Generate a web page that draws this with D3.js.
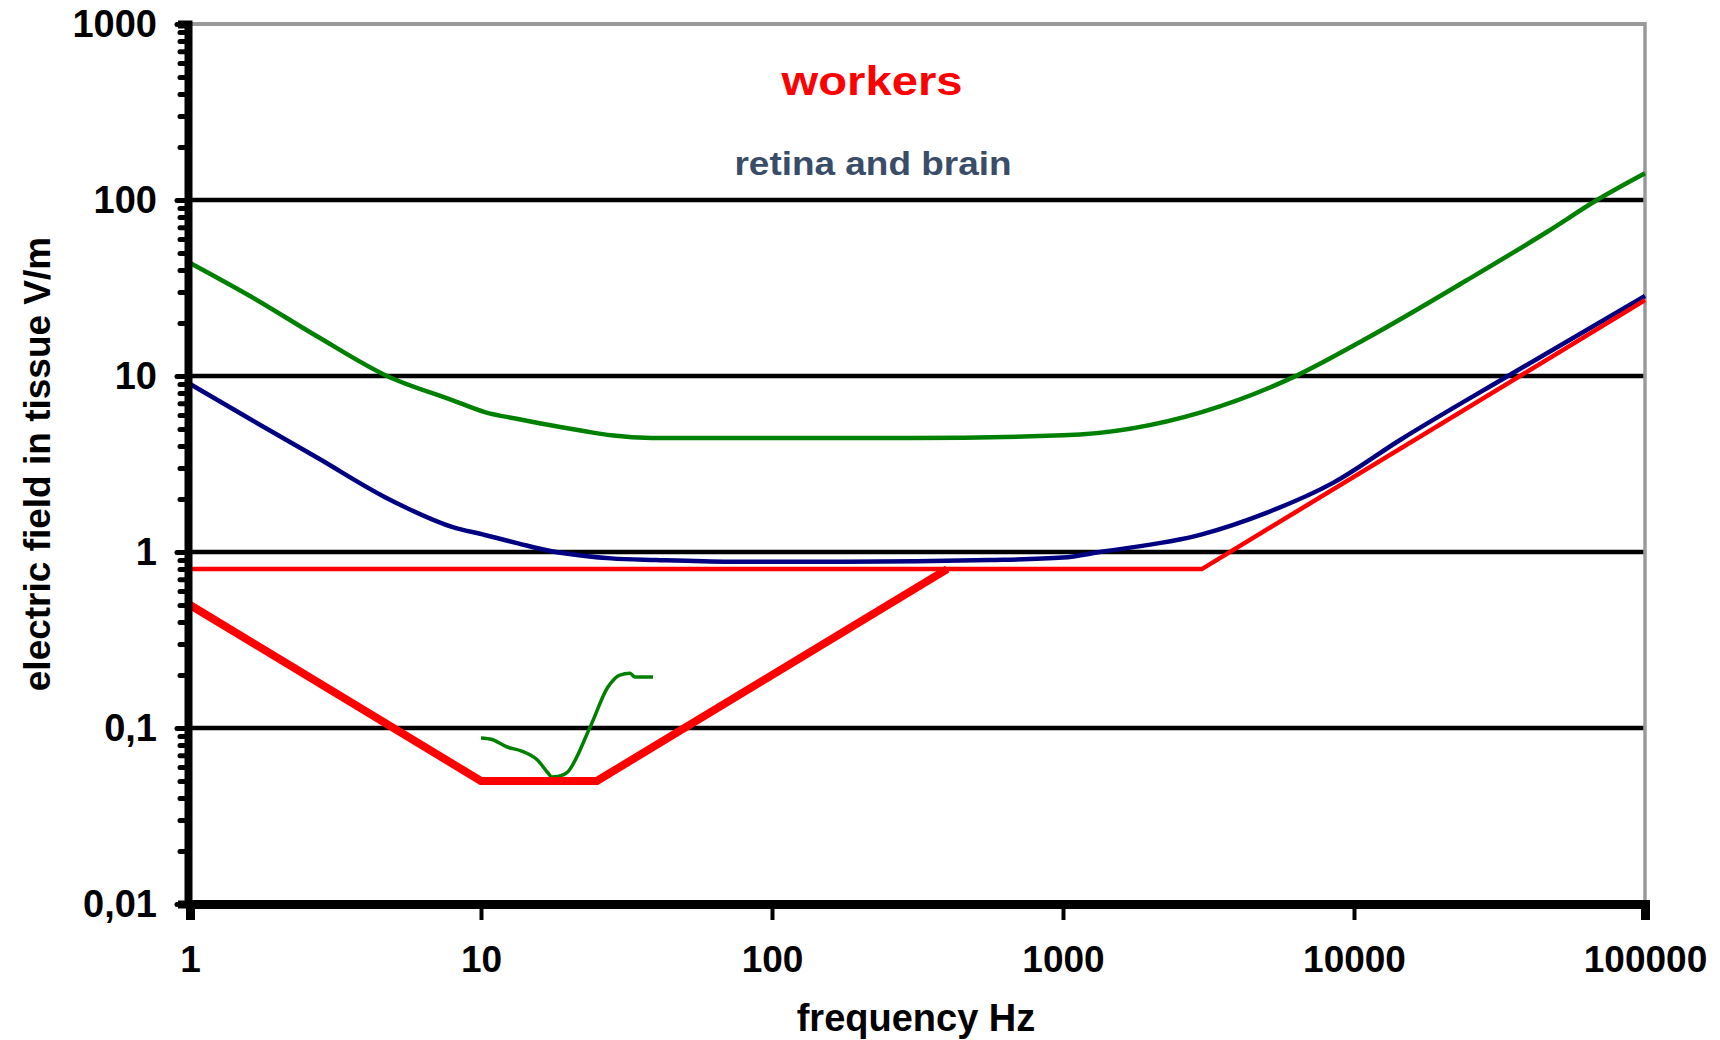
<!DOCTYPE html>
<html>
<head>
<meta charset="utf-8">
<script src="https://cdn.jsdelivr.net/npm/d3@7"></script>
<style>
body { margin: 0; background: #fff; }
svg { display: block; }
text { font-family: "Liberation Sans", Arial, sans-serif; font-weight: bold; }
</style>
</head>
<body>
<svg id="chart" width="1720" height="1040"></svg>
<script>
// axis ticks
const xTicks = [1, 10, 100, 1000, 10000, 100000];
const yTicks = [0.01, 0.1, 1, 10, 100, 1000];
const yTickLabels = ["0,01", "0,1", "1", "10", "100", "1000"];
const gridValues = [0.1, 1, 10, 100];

// [frequency Hz, field V/m]
const upperCurve = [[1, 43.9], [1.63, 28.1], [2.75, 16.7], [4.75, 10], [7.95, 7.3], [10.3, 6.24],
    [13.4, 5.7], [18.7, 5.13], [22.8, 4.85], [28, 4.6], [38.7, 4.45], [300, 4.45], [1000, 4.6],
    [3000, 6.24], [5900, 9.5], [11070, 16.4], [24400, 35], [46000, 65.8], [68400, 100], [100000, 142]];
const retinaCurve = [[1, 9.0], [1.63, 5.62], [2.75, 3.42], [4.68, 2.05], [7.95, 1.39], [10.3, 1.25],
    [13.4, 1.12], [17.5, 1.01], [22.8, 0.95], [28, 0.92], [40, 0.9], [72, 0.88], [175, 0.88],
    [560, 0.9], [1000, 0.93], [1340, 1.0], [3000, 1.26], [5000, 1.67], [8470, 2.47],
    [14400, 4.33], [35200, 10.4], [100000, 28.5]];
const bodyLimit = [[1, 0.8], [3000, 0.8], [100000, 27]];
const headLimit = [[1, 0.5], [10, 0.05], [25, 0.05], [400, 0.8]];
const measured = [[10, 0.0877], [10.9, 0.086], [12.3, 0.078], [13.8, 0.074], [15.6, 0.066],
    [17, 0.0555], [17.5, 0.0527], [18.4, 0.053], [19.8, 0.056], [23.7, 0.101], [27.3, 0.171],
    [30, 0.2], [32.5, 0.205], [33.8, 0.195], [39, 0.195]];

let svg = d3.select("#chart");

let x = d3.scaleLog().domain([1, 100000]).range([190, 1645]);
let y = d3.scaleLog().domain([0.01, 1000]).range([904, 24]);

// horizontal grid
svg.append("g").selectAll("line").data(gridValues).enter().append("line")
    .attr("x1", x(1)).attr("x2", x(100000))
    .attr("y1", d => y(d)).attr("y2", d => y(d))
    .attr("stroke", "#000").attr("stroke-width", 4.5);

// grey frame top/right
svg.append("line").attr("x1", x(1) - 2).attr("x2", x(100000)).attr("y1", y(1000)).attr("y2", y(1000))
    .attr("stroke", "#999").attr("stroke-width", 4);
svg.append("line").attr("x1", x(100000)).attr("x2", x(100000)).attr("y1", y(1000) - 2).attr("y2", y(0.01))
    .attr("stroke", "#999").attr("stroke-width", 3.5);

let line = d3.line().x(d => x(d[0])).y(d => y(d[1]));
let smooth = d3.line().x(d => x(d[0])).y(d => y(d[1])).curve(d3.curveMonotoneX);

svg.append("path").datum(upperCurve).attr("d", smooth)
    .attr("fill", "none").attr("stroke", "#008000").attr("stroke-width", 4.5);
svg.append("path").datum(retinaCurve).attr("d", smooth)
    .attr("fill", "none").attr("stroke", "#000080").attr("stroke-width", 4.5);
svg.append("path").datum(bodyLimit).attr("d", line)
    .attr("fill", "none").attr("stroke", "#ff0000").attr("stroke-width", 4.5);
svg.append("path").datum(measured).attr("d", smooth)
    .attr("fill", "none").attr("stroke", "#008000").attr("stroke-width", 3.5);
svg.append("path").datum(headLimit).attr("d", line)
    .attr("fill", "none").attr("stroke", "#ff0000").attr("stroke-width", 8)
    .attr("stroke-linejoin", "round");

// y axis with minor ticks
let minorTicks = [];
yTicks.slice(0, -1).forEach(d => { for (let k = 1; k < 10; k++) minorTicks.push(d * k); });
minorTicks.push(1000);
let isMajor = d => yTicks.some(v => Math.abs(v - d) / v < 1e-9);

let yAxis = d3.axisLeft(y).tickValues(minorTicks).tickSizeOuter(0).tickSize(10)
    .tickFormat(d => {
        let i = yTicks.findIndex(v => Math.abs(v - d) / v < 1e-9);
        return i >= 0 ? yTickLabels[i] : "";
    });
let gy = svg.append("g").attr("transform", "translate(188,0)").call(yAxis);
gy.select(".domain").attr("stroke", "#000").attr("stroke-width", 8);
gy.selectAll(".tick line").attr("stroke", "#000").attr("stroke-width", 5)
    .attr("stroke-linecap", "round").attr("x2", d => isMajor(d) ? -11 : -8);
gy.selectAll(".tick text").attr("x", -31).attr("font-size", 38).attr("fill", "#000")
    .style("font-family", "'Liberation Sans', Arial, sans-serif");

// x axis
let xAxis = d3.axisBottom(x).tickValues(xTicks).tickSizeOuter(0).tickSize(16).tickFormat(d3.format("d"));
let gx = svg.append("g").attr("transform", "translate(0,904)").call(xAxis);
gx.select(".domain").attr("stroke", "#000").attr("stroke-width", 9);
gx.selectAll(".tick line").attr("stroke", "#000").attr("stroke-width", 4);
gx.selectAll(".tick text").attr("y", 68).attr("dy", 0).attr("font-size", 37).attr("fill", "#000")
    .style("font-family", "'Liberation Sans', Arial, sans-serif");

// titles
svg.append("text").attr("x", 872).attr("y", 95).attr("text-anchor", "middle")
    .attr("font-size", 40).attr("fill", "#ff0000")
    .attr("textLength", 181).attr("lengthAdjust", "spacingAndGlyphs").text("workers");
svg.append("text").attr("x", 873).attr("y", 175).attr("text-anchor", "middle")
    .attr("font-size", 33).attr("fill", "#3a4d68")
    .attr("textLength", 277).attr("lengthAdjust", "spacingAndGlyphs").text("retina and brain");

svg.append("text").attr("x", 916).attr("y", 1031).attr("text-anchor", "middle")
    .attr("font-size", 38).attr("fill", "#000").text("frequency Hz");
svg.append("text").attr("transform", "translate(50,464) rotate(-90)").attr("text-anchor", "middle")
    .attr("font-size", 37).attr("fill", "#000").text("electric field in tissue V/m");
</script>
</body>
</html>
